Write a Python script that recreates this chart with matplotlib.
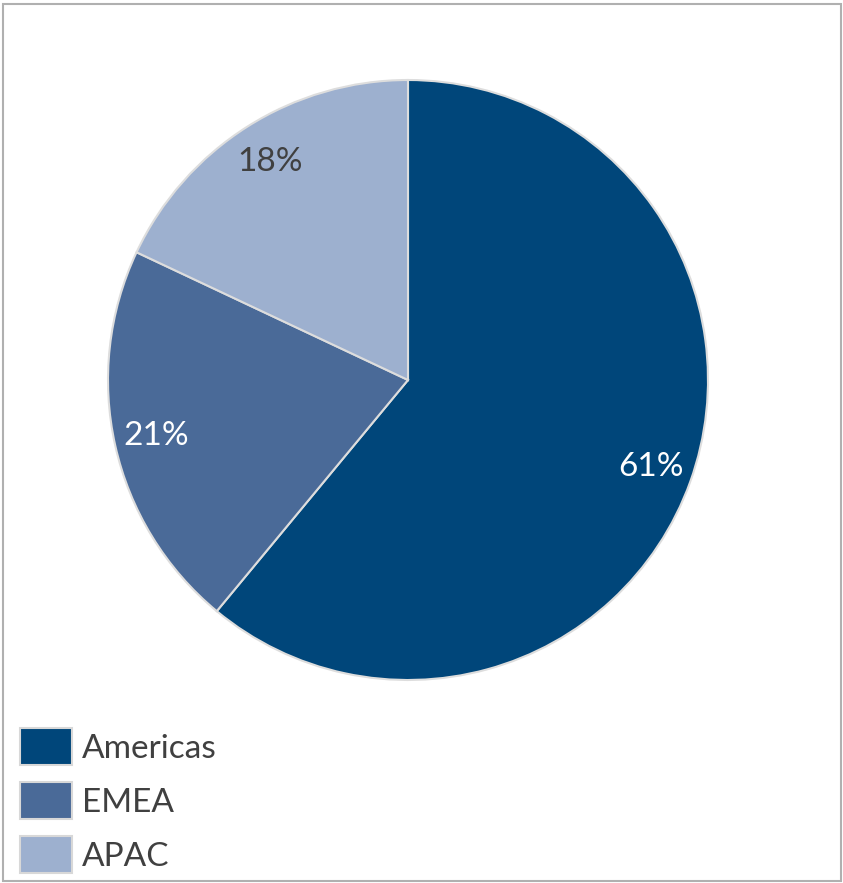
import matplotlib.pyplot as plt
from matplotlib.patches import Rectangle

regions = ['Americas', 'EMEA', 'APAC']
shares = [61, 21, 18]
colors = ['#00467a', '#4a6a98', '#9db0cf']
label_colors = ['white', 'white', '#404040']

plt.rcParams['font.family'] = ['Lato', 'DejaVu Sans']

fig = plt.figure(figsize=(8.43, 8.83), dpi=100)
W, H = 843, 883

# pie centred at (408, 380) px from top, radius ~300 px
ax = fig.add_axes([108 / W, (H - 680) / H, 600 / W, 600 / H])
wedges, texts, autotexts = ax.pie(
    shares, colors=colors, startangle=90, counterclock=False,
    autopct='%d%%', pctdistance=0.86, radius=1,
    wedgeprops=dict(edgecolor='#dddddd', linewidth=1.5),
    textprops=dict(fontsize=24))
for t, c in zip(autotexts, label_colors):
    t.set_color(c)
ax.set_xlim(-1, 1)
ax.set_ylim(-1, 1)
ax.set_aspect('equal')

leg = fig.legend(wedges, regions, loc='lower left',
                 bbox_to_anchor=(13 / W, 3 / H), frameon=False,
                 fontsize=24, handlelength=1.56, handleheight=1.35,
                 labelspacing=0.5, handletextpad=0.3, borderpad=0.2,
                 borderaxespad=0)
for h in leg.legend_handles:
    h.set_edgecolor('#d8d8d8')
    h.set_linewidth(1.5)
for t in leg.get_texts():
    t.set_color('#404040')

# outer frame
fig.patches.append(Rectangle((3 / W, 2 / H), 838 / W, 877 / H,
                             transform=fig.transFigure, fill=False,
                             edgecolor='#b0b0b0', linewidth=1.5))

fig.savefig('out.png', dpi=100)
